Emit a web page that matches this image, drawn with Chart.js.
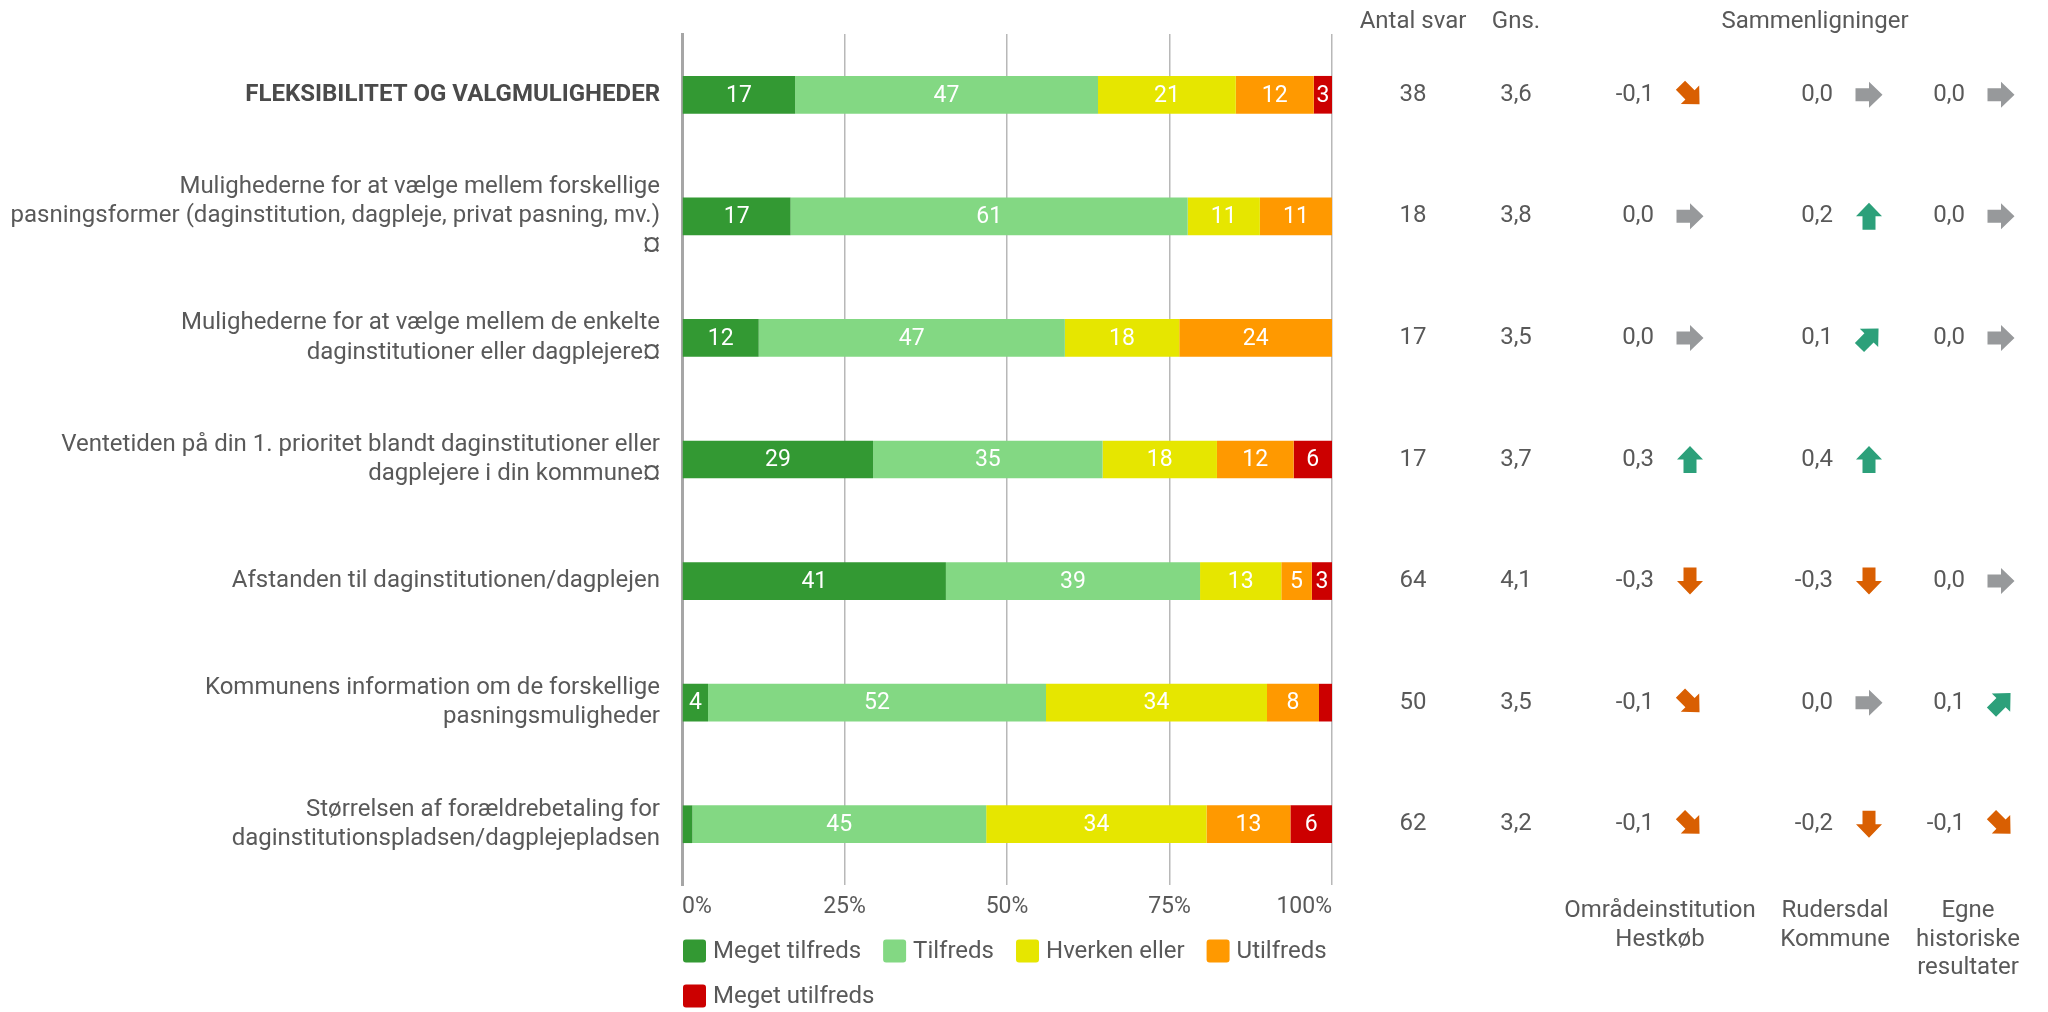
<!DOCTYPE html>
<html>
<head>
<meta charset="utf-8">
<script src="https://cdn.jsdelivr.net/npm/chart.js@4.4.1/dist/chart.umd.min.js"></script>
<style>
  html, body { margin: 0; padding: 0; background: #fff; }
  #chart { display: block; }
</style>
</head>
<body>
<canvas id="chart" width="2048" height="1012"></canvas>
<script>
// rows, top to bottom
const categories = [
    'FLEKSIBILITET OG VALGMULIGHEDER',
    ['Mulighederne for at vælge mellem forskellige', 'pasningsformer (daginstitution, dagpleje, privat pasning, mv.)', '¤'],
    ['Mulighederne for at vælge mellem de enkelte', 'daginstitutioner eller dagplejere¤'],
    ['Ventetiden på din 1. prioritet blandt daginstitutioner eller', 'dagplejere i din kommune¤'],
    'Afstanden til daginstitutionen/dagplejen',
    ['Kommunens information om de forskellige', 'pasningsmuligheder'],
    ['Størrelsen af forældrebetaling for', 'daginstitutionspladsen/dagplejepladsen']
];

// percent shares per answer
const seriesNames = ['Meget tilfreds', 'Tilfreds', 'Hverken eller', 'Utilfreds', 'Meget utilfreds'];
const megetTilfreds = [17.4, 16.7, 11.8, 29.4, 40.6, 4.0, 1.6];
const tilfreds = [46.6, 61.1, 47.1, 35.3, 39.1, 52.0, 45.2];
const hverkenEller = [21.2, 11.1, 17.6, 17.6, 12.5, 34.0, 33.9];
const utilfreds = [12.0, 11.1, 23.5, 11.8, 4.7, 8.0, 12.9];
const megetUtilfreds = [2.8, 0, 0, 5.9, 3.1, 2.0, 6.4];
const seriesColors = ['#339933', '#83d883', '#e6e600', '#ff9900', '#cc0000'];

const xTickStep = 25;

// table columns on the right
const antalSvar = [38, 18, 17, 17, 64, 50, 62];
const gennemsnit = [3.6, 3.8, 3.5, 3.7, 4.1, 3.5, 3.2];
const cmpOmraade = [-0.1, 0.0, 0.0, 0.3, -0.3, -0.1, -0.1];
const cmpKommune = [0.0, 0.2, 0.1, 0.4, -0.3, 0.0, -0.2];
const cmpHistorisk = [0.0, 0.0, 0.0, null, 0.0, 0.1, -0.1];
const cmpHeaders = [['Områdeinstitution', 'Hestkøb'], ['Rudersdal', 'Kommune'], ['Egne', 'historiske', 'resultater']];

const TEXT = '#595959';
const FONT = 'Roboto';
const fmt = v => v.toFixed(1).replace('.', ',');

const barLabels = {
    id: 'barLabels',
    afterDatasetsDraw(chart) {
        const ctx = chart.ctx;
        ctx.save();
        ctx.font = `23px ${FONT}`;
        ctx.fillStyle = '#ffffff';
        ctx.textAlign = 'center';
        ctx.textBaseline = 'middle';
        chart.data.datasets.forEach((ds, di) => {
            chart.getDatasetMeta(di).data.forEach((bar, i) => {
                const v = ds.data[i];
                if (!(v >= 2.5)) return;
                const c = bar.getCenterPoint();
                ctx.fillText(String(Math.round(v)), c.x, c.y + 1);
            });
        });
        ctx.restore();
    }
};

function drawArrow(ctx, x, y, v) {
    let angle, color;
    if (Math.abs(v) < 0.05) { angle = 90; color = '#97999b'; }
    else if (v > 0) { angle = v >= 0.15 ? 0 : 45; color = '#2ca07a'; }
    else { angle = v <= -0.15 ? 180 : 135; color = '#d95f02'; }
    ctx.save();
    ctx.translate(x, y);
    ctx.rotate(angle * Math.PI / 180);
    ctx.fillStyle = color;
    ctx.beginPath();
    ctx.moveTo(0, -13.5);
    ctx.lineTo(13, 0);
    ctx.lineTo(6.5, 0);
    ctx.lineTo(6.5, 13.5);
    ctx.lineTo(-6.5, 13.5);
    ctx.lineTo(-6.5, 0);
    ctx.lineTo(-13, 0);
    ctx.closePath();
    ctx.fill();
    ctx.restore();
}

const sideTable = {
    id: 'sideTable',
    afterDraw(chart) {
        const ctx = chart.ctx;
        const y = chart.scales.y;
        ctx.save();
        ctx.font = `24px ${FONT}`;
        ctx.fillStyle = TEXT;
        ctx.textBaseline = 'middle';
        ctx.textAlign = 'center';
        ctx.fillText('Antal svar', 1413, 22);
        ctx.fillText('Gns.', 1516, 22);
        ctx.fillText('Sammenligninger', 1815, 22);

        const cmpCols = [cmpOmraade, cmpKommune, cmpHistorisk];
        const arrowX = [1690, 1869, 2001];
        const headX = [1660, 1835, 1968];
        categories.forEach((c, i) => {
            const py = y.getPixelForValue(i);
            ctx.textAlign = 'center';
            ctx.fillStyle = TEXT;
            ctx.fillText(String(antalSvar[i]), 1413, py);
            ctx.fillText(fmt(gennemsnit[i]), 1516, py);
            cmpCols.forEach((col, k) => {
                const v = col[i];
                if (v === null || v === undefined) return;
                ctx.textAlign = 'right';
                ctx.fillStyle = TEXT;
                ctx.fillText(fmt(v), arrowX[k] - 36, py);
                drawArrow(ctx, arrowX[k], py, v);
            });
        });

        ctx.fillStyle = TEXT;
        ctx.textAlign = 'center';
        cmpHeaders.forEach((lines, k) => {
            lines.forEach((t, j) => ctx.fillText(t, headX[k], 911 + j * 28.5));
        });
        ctx.restore();
    }
};

const bottomLegend = {
    id: 'bottomLegend',
    afterDraw(chart) {
        const ctx = chart.ctx;
        const area = chart.chartArea;
        ctx.save();
        ctx.font = `24px ${FONT}`;
        ctx.textBaseline = 'middle';
        ctx.textAlign = 'left';
        const left = area.left + 1;
        let x = left, y = area.bottom + 66;
        chart.data.datasets.forEach(ds => {
            const w = 23 + 7 + ctx.measureText(ds.label).width;
            if (x > left && x + w > area.right + 5) { x = left; y += 45; }
            ctx.fillStyle = ds.backgroundColor;
            ctx.beginPath();
            ctx.roundRect(x, y - 11.5, 23, 23, 3);
            ctx.fill();
            ctx.fillStyle = TEXT;
            ctx.fillText(ds.label, x + 30, y + 1);
            x += w + 22;
        });
        ctx.restore();
    }
};

const seriesData = [megetTilfreds, tilfreds, hverkenEller, utilfreds, megetUtilfreds];

function build() {
    Chart.defaults.font.family = FONT;
    Chart.defaults.color = TEXT;
    new Chart(document.getElementById('chart'), {
        type: 'bar',
        data: {
            labels: categories,
            datasets: seriesNames.map((name, k) => ({
                label: name,
                data: seriesData[k],
                backgroundColor: seriesColors[k],
                borderWidth: 0,
                barPercentage: 0.31,
                categoryPercentage: 1
            }))
        },
        options: {
            indexAxis: 'y',
            responsive: false,
            animation: false,
            devicePixelRatio: 1,
            layout: { padding: { top: 34, right: 716, bottom: 90, left: 0 } },
            plugins: {
                legend: { display: false },
                tooltip: { enabled: false }
            },
            scales: {
                x: {
                    stacked: true,
                    min: 0,
                    max: 100,
                    afterFit: s => { s.height = 37; s.paddingLeft = 0; s.paddingRight = 0; },
                    grid: {
                        color: '#b8b8b8',
                        lineWidth: 1.5,
                        drawTicks: false
                    },
                    border: { display: false },
                    ticks: {
                        stepSize: xTickStep,
                        align: 'inner',
                        padding: 8,
                        color: TEXT,
                        font: { size: 23 },
                        callback: v => v + '%'
                    }
                },
                y: {
                    stacked: true,
                    afterFit: s => { s.width = 682; s.paddingTop = 0; s.paddingBottom = 0; },
                    grid: { display: false, drawTicks: false },
                    border: { display: true, color: '#a6a6a6', width: 3 },
                    ticks: {
                        padding: 22,
                        color: c => c.index === 0 ? '#4a4a4a' : TEXT,
                        font: c => ({ size: 24, weight: c.index === 0 ? 'bold' : 'normal', lineHeight: 1.22 })
                    }
                }
            }
        },
        plugins: [barLabels, sideTable, bottomLegend]
    });
}

if (document.fonts && document.fonts.load) {
    Promise.all([
        document.fonts.load(`24px ${FONT}`),
        document.fonts.load(`bold 24px ${FONT}`)
    ]).then(build, build);
} else {
    build();
}
</script>
</body>
</html>
